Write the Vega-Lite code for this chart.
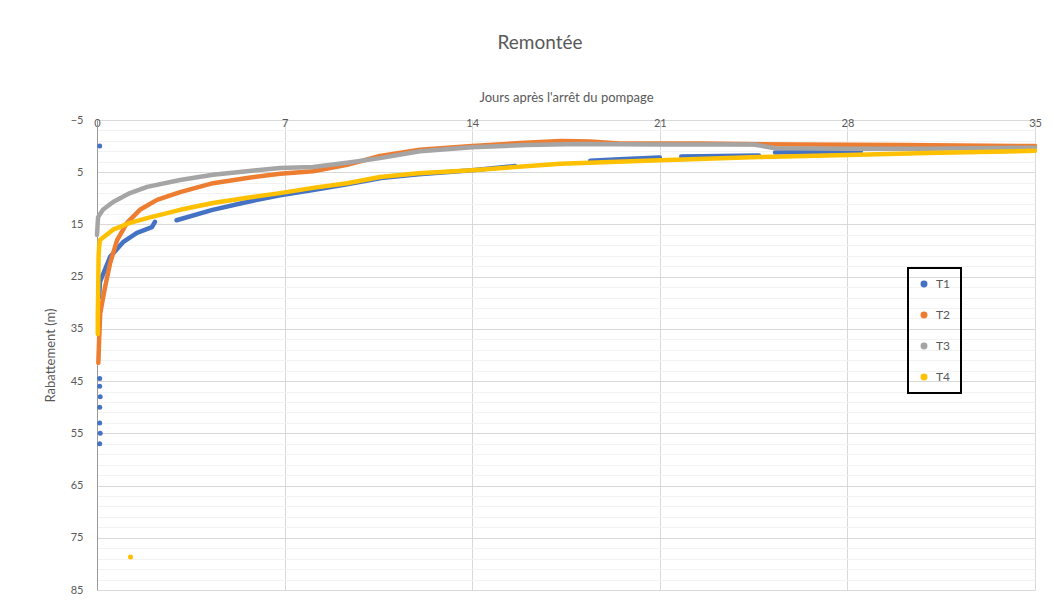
{
  "$schema": "https://vega.github.io/schema/vega-lite/v6.json",
  "width": 938,
  "height": 470,
  "autosize": {"type": "none"},
  "padding": {"left": 97, "top": 120, "right": 19, "bottom": 12},
  "background": "white",
  "title": {"text": "Remontée", "fontSize": 19, "font": "Lato", "fontWeight": "normal", "color": "#595959", "offset": 38, "dx": -26},
  "config": {
    "view": {"stroke": null},
    "font": "Lato",
    "legend": {"strokeColor": "black", "strokeWidth": 2, "padding": 10, "rowPadding": 19, "labelFontSize": 12, "labelColor": "#595959", "symbolType": "circle", "symbolSize": 30, "labelOffset": 6}
  },
  "data": {"values": [
    {"serie": "T1", "seg": "a", "kind": "l", "jours": 0.08, "m": 29},
    {"serie": "T1", "seg": "a", "kind": "l", "jours": 0.11, "m": 26},
    {"serie": "T1", "seg": "a", "kind": "l", "jours": 0.49, "m": 21.2},
    {"serie": "T1", "seg": "a", "kind": "l", "jours": 0.97, "m": 18.4},
    {"serie": "T1", "seg": "a", "kind": "l", "jours": 1.49, "m": 16.6},
    {"serie": "T1", "seg": "a", "kind": "l", "jours": 2.05, "m": 15.5},
    {"serie": "T1", "seg": "a", "kind": "l", "jours": 2.16, "m": 14.5},
    {"serie": "T1", "seg": "b", "kind": "l", "jours": 2.97, "m": 14.2},
    {"serie": "T1", "seg": "b", "kind": "l", "jours": 4.31, "m": 12.2},
    {"serie": "T1", "seg": "b", "kind": "l", "jours": 5.6, "m": 10.7},
    {"serie": "T1", "seg": "b", "kind": "l", "jours": 6.83, "m": 9.4},
    {"serie": "T1", "seg": "b", "kind": "l", "jours": 8.06, "m": 8.4},
    {"serie": "T1", "seg": "b", "kind": "l", "jours": 9.33, "m": 7.3},
    {"serie": "T1", "seg": "b", "kind": "l", "jours": 10.6, "m": 6.1},
    {"serie": "T1", "seg": "b", "kind": "l", "jours": 12, "m": 5.4},
    {"serie": "T1", "seg": "b", "kind": "l", "jours": 14, "m": 4.6},
    {"serie": "T1", "seg": "b", "kind": "l", "jours": 15.6, "m": 3.8},
    {"serie": "T1", "seg": "c", "kind": "l", "jours": 18.4, "m": 2.8},
    {"serie": "T1", "seg": "c", "kind": "l", "jours": 19.5, "m": 2.5},
    {"serie": "T1", "seg": "c", "kind": "l", "jours": 21, "m": 2.2},
    {"serie": "T1", "seg": "d", "kind": "l", "jours": 21.8, "m": 2.0},
    {"serie": "T1", "seg": "d", "kind": "l", "jours": 24.7, "m": 1.8},
    {"serie": "T1", "seg": "e", "kind": "l", "jours": 25.3, "m": 1.2},
    {"serie": "T1", "seg": "e", "kind": "l", "jours": 28.5, "m": 1.0},
    {"serie": "T1", "seg": "p1", "kind": "p", "jours": 0.1, "m": 0},
    {"serie": "T1", "seg": "p2", "kind": "p", "jours": 0.1, "m": 44.5},
    {"serie": "T1", "seg": "p3", "kind": "p", "jours": 0.1, "m": 46},
    {"serie": "T1", "seg": "p4", "kind": "p", "jours": 0.12, "m": 48},
    {"serie": "T1", "seg": "p5", "kind": "p", "jours": 0.1, "m": 50},
    {"serie": "T1", "seg": "p6", "kind": "p", "jours": 0.1, "m": 53},
    {"serie": "T1", "seg": "p7", "kind": "p", "jours": 0.12, "m": 55},
    {"serie": "T1", "seg": "p8", "kind": "p", "jours": 0.1, "m": 57},
    {"serie": "T2", "seg": "a", "kind": "l", "jours": 0.05, "m": 41.5},
    {"serie": "T2", "seg": "a", "kind": "l", "jours": 0.08, "m": 37},
    {"serie": "T2", "seg": "a", "kind": "l", "jours": 0.12, "m": 32},
    {"serie": "T2", "seg": "a", "kind": "l", "jours": 0.3, "m": 27},
    {"serie": "T2", "seg": "a", "kind": "l", "jours": 0.49, "m": 22.4},
    {"serie": "T2", "seg": "a", "kind": "l", "jours": 0.75, "m": 18},
    {"serie": "T2", "seg": "a", "kind": "l", "jours": 1.12, "m": 14.7},
    {"serie": "T2", "seg": "a", "kind": "l", "jours": 1.6, "m": 12.2},
    {"serie": "T2", "seg": "a", "kind": "l", "jours": 2.24, "m": 10.3},
    {"serie": "T2", "seg": "a", "kind": "l", "jours": 3.1, "m": 8.8},
    {"serie": "T2", "seg": "a", "kind": "l", "jours": 4.33, "m": 7.1},
    {"serie": "T2", "seg": "a", "kind": "l", "jours": 5.6, "m": 6.1},
    {"serie": "T2", "seg": "a", "kind": "l", "jours": 6.83, "m": 5.3},
    {"serie": "T2", "seg": "a", "kind": "l", "jours": 8.06, "m": 4.8},
    {"serie": "T2", "seg": "a", "kind": "l", "jours": 9.33, "m": 3.6},
    {"serie": "T2", "seg": "a", "kind": "l", "jours": 10.56, "m": 1.9},
    {"serie": "T2", "seg": "a", "kind": "l", "jours": 12.05, "m": 0.7},
    {"serie": "T2", "seg": "a", "kind": "l", "jours": 14, "m": 0.0},
    {"serie": "T2", "seg": "a", "kind": "l", "jours": 15.8, "m": -0.6},
    {"serie": "T2", "seg": "a", "kind": "l", "jours": 17.3, "m": -1.0},
    {"serie": "T2", "seg": "a", "kind": "l", "jours": 18.4, "m": -0.9},
    {"serie": "T2", "seg": "a", "kind": "l", "jours": 19.5, "m": -0.5},
    {"serie": "T2", "seg": "a", "kind": "l", "jours": 22.5, "m": -0.5},
    {"serie": "T2", "seg": "a", "kind": "l", "jours": 26.2, "m": -0.3},
    {"serie": "T2", "seg": "a", "kind": "l", "jours": 30, "m": -0.2},
    {"serie": "T2", "seg": "a", "kind": "l", "jours": 35, "m": 0.0},
    {"serie": "T3", "seg": "a", "kind": "l", "jours": 0.0, "m": 17},
    {"serie": "T3", "seg": "a", "kind": "l", "jours": 0.04, "m": 13.6},
    {"serie": "T3", "seg": "a", "kind": "l", "jours": 0.22, "m": 12.2},
    {"serie": "T3", "seg": "a", "kind": "l", "jours": 0.6, "m": 10.7},
    {"serie": "T3", "seg": "a", "kind": "l", "jours": 1.23, "m": 9.0},
    {"serie": "T3", "seg": "a", "kind": "l", "jours": 1.87, "m": 7.8},
    {"serie": "T3", "seg": "a", "kind": "l", "jours": 3.1, "m": 6.5},
    {"serie": "T3", "seg": "a", "kind": "l", "jours": 4.33, "m": 5.5},
    {"serie": "T3", "seg": "a", "kind": "l", "jours": 5.6, "m": 4.8},
    {"serie": "T3", "seg": "a", "kind": "l", "jours": 6.83, "m": 4.2},
    {"serie": "T3", "seg": "a", "kind": "l", "jours": 8.06, "m": 4.0},
    {"serie": "T3", "seg": "a", "kind": "l", "jours": 9.33, "m": 3.2},
    {"serie": "T3", "seg": "a", "kind": "l", "jours": 10.56, "m": 2.3},
    {"serie": "T3", "seg": "a", "kind": "l", "jours": 12.05, "m": 1.0},
    {"serie": "T3", "seg": "a", "kind": "l", "jours": 14, "m": 0.2},
    {"serie": "T3", "seg": "a", "kind": "l", "jours": 16, "m": -0.2},
    {"serie": "T3", "seg": "a", "kind": "l", "jours": 18, "m": -0.4},
    {"serie": "T3", "seg": "a", "kind": "l", "jours": 21, "m": -0.3},
    {"serie": "T3", "seg": "a", "kind": "l", "jours": 24.5, "m": -0.3},
    {"serie": "T3", "seg": "a", "kind": "l", "jours": 25.3, "m": 0.4},
    {"serie": "T3", "seg": "a", "kind": "l", "jours": 28, "m": 0.5},
    {"serie": "T3", "seg": "a", "kind": "l", "jours": 31, "m": 0.5},
    {"serie": "T3", "seg": "a", "kind": "l", "jours": 35, "m": 0.3},
    {"serie": "T4", "seg": "a", "kind": "l", "jours": 0.03, "m": 36},
    {"serie": "T4", "seg": "a", "kind": "l", "jours": 0.03, "m": 32},
    {"serie": "T4", "seg": "a", "kind": "l", "jours": 0.04, "m": 29.5},
    {"serie": "T4", "seg": "a", "kind": "l", "jours": 0.05, "m": 25},
    {"serie": "T4", "seg": "a", "kind": "l", "jours": 0.06, "m": 21},
    {"serie": "T4", "seg": "a", "kind": "l", "jours": 0.08, "m": 19.3},
    {"serie": "T4", "seg": "a", "kind": "l", "jours": 0.11, "m": 18},
    {"serie": "T4", "seg": "a", "kind": "l", "jours": 0.6, "m": 16},
    {"serie": "T4", "seg": "a", "kind": "l", "jours": 1.23, "m": 14.7},
    {"serie": "T4", "seg": "a", "kind": "l", "jours": 1.87, "m": 13.8},
    {"serie": "T4", "seg": "a", "kind": "l", "jours": 3.1, "m": 12.2},
    {"serie": "T4", "seg": "a", "kind": "l", "jours": 4.33, "m": 10.9},
    {"serie": "T4", "seg": "a", "kind": "l", "jours": 5.6, "m": 9.9},
    {"serie": "T4", "seg": "a", "kind": "l", "jours": 6.83, "m": 9.0},
    {"serie": "T4", "seg": "a", "kind": "l", "jours": 8.06, "m": 8.0},
    {"serie": "T4", "seg": "a", "kind": "l", "jours": 9.33, "m": 7.1},
    {"serie": "T4", "seg": "a", "kind": "l", "jours": 10.56, "m": 5.9},
    {"serie": "T4", "seg": "a", "kind": "l", "jours": 12, "m": 5.2},
    {"serie": "T4", "seg": "a", "kind": "l", "jours": 14, "m": 4.6},
    {"serie": "T4", "seg": "a", "kind": "l", "jours": 17.3, "m": 3.4},
    {"serie": "T4", "seg": "a", "kind": "l", "jours": 21, "m": 2.7},
    {"serie": "T4", "seg": "a", "kind": "l", "jours": 24.7, "m": 2.1},
    {"serie": "T4", "seg": "a", "kind": "l", "jours": 28, "m": 1.7},
    {"serie": "T4", "seg": "a", "kind": "l", "jours": 31, "m": 1.3},
    {"serie": "T4", "seg": "a", "kind": "l", "jours": 35, "m": 0.9},
    {"serie": "T4", "seg": "p1", "kind": "p", "jours": 1.25, "m": 78.7}
  ]},
  "encoding": {
    "x": {
      "field": "jours", "type": "quantitative",
      "scale": {"domain": [0, 35], "nice": false, "zero": false},
      "axis": {
        "orient": "top", "values": [0, 7, 14, 21, 28, 35], "title": "Jours après l'arrêt du pompage",
        "titleFontSize": 13, "titleFontWeight": "normal", "titleColor": "#595959", "titleY": -23, "titleBaseline": "middle",
        "labelFontSize": 11, "labelColor": "#595959", "labelBaseline": "middle", "labelPadding": -3, "ticks": false, "domain": false,
        "gridColor": "#d9d9d9", "labelFlush": false
      }
    },
    "y": {
      "field": "m", "type": "quantitative",
      "scale": {"domain": [-5, 85], "nice": false, "zero": false, "reverse": true},
      "axis": {
        "values": [-5, -3, -1, 1, 3, 5, 7, 9, 11, 13, 15, 17, 19, 21, 23, 25, 27, 29, 31, 33, 35, 37, 39, 41, 43, 45, 47, 49, 51, 53, 55, 57, 59, 61, 63, 65, 67, 69, 71, 73, 75, 77, 79, 81, 83, 85],
        "labelExpr": "(datum.value + 5) % 10 === 0 ? datum.label : ''",
        "gridColor": {"condition": {"test": "(datum.value + 5) % 10 === 0", "value": "#d9d9d9"}, "value": "#f2f2f2"},
        "title": "Rabattement (m)", "titleFontSize": 13, "titleFontWeight": "normal", "titleColor": "#595959", "titlePadding": 13,
        "labelFontSize": 11, "labelColor": "#595959", "labelPadding": 14, "ticks": false, "domainColor": "#999999", "labelFlush": false, "labelOverlap": false
      }
    },
    "color": {
      "field": "serie", "type": "nominal",
      "scale": {"domain": ["T1", "T2", "T3", "T4"], "range": ["#4472C4", "#ED7D31", "#A5A5A5", "#FFC000"]},
      "legend": {"title": null, "orient": "none", "legendX": 811, "legendY": 148}
    }
  },
  "layer": [
    {
      "transform": [{"filter": "datum.kind === 'l'"}],
      "mark": {"type": "line", "strokeWidth": 4.5, "strokeCap": "round", "strokeJoin": "round"},
      "encoding": {"detail": {"field": "seg", "type": "nominal"}}
    },
    {
      "transform": [{"filter": "datum.kind === 'p'"}],
      "mark": {"type": "point", "filled": true, "size": 25, "opacity": 1}
    }
  ]
}
